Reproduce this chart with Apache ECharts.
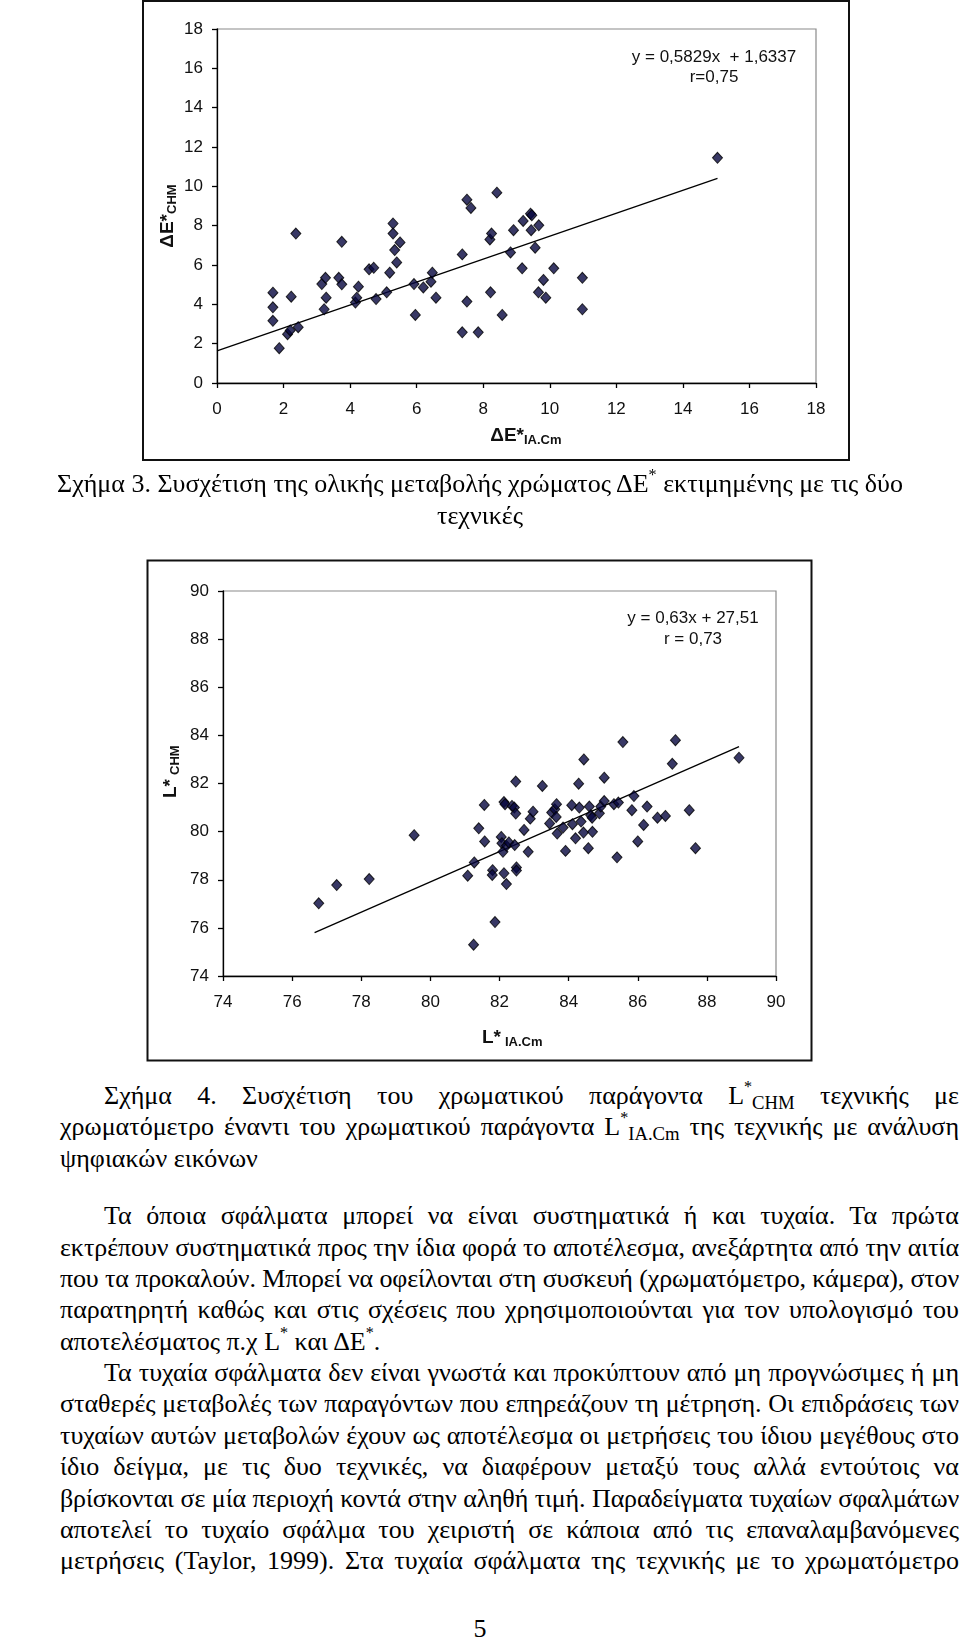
<!DOCTYPE html>
<html><head><meta charset="utf-8">
<script src="https://cdn.jsdelivr.net/npm/echarts@6/dist/echarts.min.js"></script>
<style>
html,body{margin:0;padding:0;background:#fff;}
#page{position:relative;width:960px;height:1639px;overflow:hidden;background:#fff;}
#chart{position:absolute;left:0;top:0;width:960px;height:1070px;}
.ln{position:absolute;font-family:"Liberation Serif","Times New Roman",serif;font-size:26px;line-height:28px;height:28px;color:#000;white-space:nowrap;}
.j{white-space:normal;text-align:justify;text-align-last:justify;}
.ln sup{font-size:0.62em;vertical-align:0.75em;line-height:0;}
.ln sub{font-size:0.72em;vertical-align:-0.25em;line-height:0;}
</style></head>
<body><div id="page">
<div id="chart"></div>

<div class="ln" style="left:0;width:960px;text-align:center;top:470px">Σχήμα 3. Συσχέτιση της ολικής μεταβολής χρώματος ΔΕ<sup>*</sup> εκτιμημένης με τις δύο</div>
<div class="ln" style="left:0;width:960px;text-align:center;top:502px">τεχνικές</div>

<div class="ln j" style="left:104px;width:855px;top:1082px">Σχήμα 4. Συσχέτιση του χρωματικού παράγοντα L<sup>*</sup><sub>CHM</sub> τεχνικής με</div>
<div class="ln j" style="left:60px;width:899px;top:1113px">χρωματόμετρο έναντι του χρωματικού παράγοντα L<sup>*</sup><sub>IA.Cm</sub> της τεχνικής με ανάλυση</div>
<div class="ln" style="left:60px;top:1145px">ψηφιακών εικόνων</div>

<div class="ln j" style="left:104px;width:855px;top:1202px">Τα όποια σφάλματα μπορεί να είναι συστηματικά ή και τυχαία. Τα πρώτα</div>
<div class="ln j" style="left:60px;width:899px;top:1234px">εκτρέπουν συστηματικά προς την ίδια φορά το αποτέλεσμα, ανεξάρτητα από την αιτία</div>
<div class="ln j" style="left:60px;width:899px;top:1265px">που τα προκαλούν.  Μπορεί να οφείλονται στη συσκευή (χρωματόμετρο, κάμερα), στον</div>
<div class="ln j" style="left:60px;width:899px;top:1296px">παρατηρητή καθώς και στις σχέσεις που χρησιμοποιούνται για τον υπολογισμό του</div>
<div class="ln" style="left:60px;top:1328px">αποτελέσματος π.χ L<sup>*</sup> και ΔΕ<sup>*</sup>.</div>
<div class="ln j" style="left:104px;width:855px;top:1359px">Τα τυχαία σφάλματα δεν είναι γνωστά και προκύπτουν από μη προγνώσιμες ή μη</div>
<div class="ln j" style="left:60px;width:899px;top:1390px">σταθερές μεταβολές των παραγόντων που επηρεάζουν τη μέτρηση.  Οι επιδράσεις των</div>
<div class="ln j" style="left:60px;width:899px;top:1422px">τυχαίων αυτών μεταβολών έχουν ως αποτέλεσμα οι μετρήσεις του ίδιου μεγέθους στο</div>
<div class="ln j" style="left:60px;width:899px;top:1453px">ίδιο δείγμα, με τις δυο τεχνικές, να διαφέρουν μεταξύ τους αλλά εντούτοις να</div>
<div class="ln j" style="left:60px;width:899px;top:1485px">βρίσκονται σε μία περιοχή κοντά στην αληθή τιμή. Παραδείγματα τυχαίων σφαλμάτων</div>
<div class="ln j" style="left:60px;width:899px;top:1516px">αποτελεί το τυχαίο σφάλμα του χειριστή σε κάποια από τις επαναλαμβανόμενες</div>
<div class="ln j" style="left:60px;width:899px;top:1547px">μετρήσεις (Taylor, 1999).  Στα τυχαία σφάλματα της τεχνικής με το χρωματόμετρο</div>
<div class="ln" style="left:0;width:960px;text-align:center;top:1615px">5</div>
</div>
<script>
// ---- Chart 1: ΔE* ----
const de_ia = [1.68,1.68,1.68,1.87,2.12,2.2,2.23,2.37,2.44,3.15,3.26,3.22,3.28,3.66,3.75,3.75,4.16,4.2,4.25,4.57,4.71,4.78,5.1,5.19,5.29,5.29,5.34,5.4,5.5,5.92,5.96,6.2,6.43,6.47,6.58,7.37,7.37,7.51,7.51,7.63,7.85,8.2,8.25,8.22,8.41,8.57,8.82,8.91,9.17,9.2,9.42,9.44,9.46,9.56,9.67,9.66,9.81,9.88,10.12,10.98,10.98,15.04];
const de_chm = [4.59,3.85,3.16,1.77,2.48,2.67,4.39,7.6,2.84,5.03,5.35,3.75,4.34,5.35,7.18,5.02,4.09,4.34,4.9,5.78,5.86,4.27,4.61,5.61,8.11,7.6,6.76,6.13,7.15,5.03,3.46,4.86,5.15,5.61,4.34,6.54,2.58,9.32,4.14,8.9,2.58,7.3,7.6,4.61,9.68,3.46,6.64,7.77,5.83,8.24,8.61,7.77,8.53,6.88,8.02,4.61,5.24,4.34,5.83,5.35,3.75,11.45];
const fit1 = [0.5829, 1.6337];      // slope, intercept
const fit1Range = [0, 15.04];
const ticks1 = [0, 18, 2];

// ---- Chart 2: L* ----
const l_ia = [76.77,77.29,78.23,79.53,81.08,81.27,81.25,81.4,81.56,81.57,81.8,81.79,81.87,82.05,82.07,82.1,82.13,82.13,82.2,82.2,82.16,82.27,82.36,82.43,82.47,82.47,82.44,82.49,82.49,82.71,82.83,82.89,82.97,83.24,83.45,83.51,83.6,83.65,83.64,83.67,83.84,83.91,84.09,84.11,84.2,84.29,84.31,84.36,84.44,84.43,84.57,84.6,84.64,84.68,84.69,84.89,84.93,85.03,85.03,85.31,85.4,85.44,85.57,85.83,85.89,86.0,86.17,86.27,86.57,86.8,87.0,87.09,87.49,87.67,88.93];
const l_chm = [77.02,77.78,78.03,79.85,78.17,78.72,75.3,80.14,81.11,79.59,78.4,78.2,76.24,79.78,79.52,79.16,81.23,78.27,77.82,79.41,81.14,79.55,81.07,81.0,80.75,82.08,79.44,78.51,78.38,80.07,79.16,80.54,80.83,81.9,80.34,80.79,80.93,81.14,80.61,79.92,80.17,79.2,81.1,80.31,79.72,81.99,81.0,80.42,83.0,79.96,79.31,81.04,80.68,80.58,79.99,80.76,81.04,82.24,81.27,81.14,78.93,81.21,83.72,80.89,81.48,79.59,80.28,81.04,80.58,80.65,82.82,83.8,80.89,79.31,83.07];
const fit2 = [0.63, 27.51];
const fit2Range = [76.65, 88.93];
const ticks2 = [74, 90, 2];

const eq1 = ['y = 0,5829x  + 1,6337', 'r=0,75'];
const eq2 = ['y = 0,63x + 27,51', 'r = 0,73'];

const SANS = '"Liberation Sans", Arial, sans-serif';
const pairs = (xs, ys) => xs.map((x, i) => [x, ys[i]]);
const fitLine = (f, r) => r.map(x => [x, f[0] * x + f[1]]);

function xAxis(gi, t) {
  return {
    type: 'value', gridIndex: gi, min: t[0], max: t[1], interval: t[2],
    axisLine: { show: true, onZero: false, lineStyle: { color: '#000', width: 1.3 } },
    axisTick: { show: true, inside: false, length: 5, lineStyle: { color: '#000', width: 1.3 } },
    axisLabel: { color: '#111', fontFamily: SANS, fontSize: 17, margin: 18 },
    splitLine: { show: false }
  };
}
function yAxis(gi, t) {
  return {
    type: 'value', gridIndex: gi, min: t[0], max: t[1], interval: t[2],
    axisLine: { show: true, onZero: false, lineStyle: { color: '#000', width: 1.3 } },
    axisTick: { show: true, inside: false, length: 5, lineStyle: { color: '#000', width: 1.3 } },
    axisLabel: { color: '#111', fontFamily: SANS, fontSize: 17, margin: 14 },
    splitLine: { show: false }
  };
}
const pointStyle = { color: '#06063f', borderColor: '#000', borderWidth: 1 };

function txt(x, y, text, font, align, rot) {
  return {
    type: 'text', x: x, y: y, rotation: rot || 0, silent: true,
    style: { text: text, font: font, fill: '#111', align: align || 'center', verticalAlign: 'middle' }
  };
}

const chart = echarts.init(document.getElementById('chart'), null, { renderer: 'canvas' });
chart.setOption({
  animation: false,
  backgroundColor: 'transparent',
  grid: [
    { left: 217, top: 29, width: 599, height: 354, show: true, borderColor: '#8a8a8a', borderWidth: 1.2, backgroundColor: 'transparent' },
    { left: 223, top: 591, width: 553, height: 385, show: true, borderColor: '#8a8a8a', borderWidth: 1.2, backgroundColor: 'transparent' }
  ],
  xAxis: [xAxis(0, ticks1), xAxis(1, ticks2)],
  yAxis: [yAxis(0, ticks1), yAxis(1, ticks2)],
  series: [
    { type: 'line', xAxisIndex: 0, yAxisIndex: 0, data: fitLine(fit1, fit1Range), symbol: 'none', lineStyle: { color: '#000', width: 1.3 }, silent: true, z: 2 },
    { type: 'scatter', xAxisIndex: 0, yAxisIndex: 0, data: pairs(de_ia, de_chm), symbol: 'diamond', symbolSize: [10, 11], itemStyle: pointStyle, z: 3 },
    { type: 'line', xAxisIndex: 1, yAxisIndex: 1, data: fitLine(fit2, fit2Range), symbol: 'none', lineStyle: { color: '#000', width: 1.3 }, silent: true, z: 2 },
    { type: 'scatter', xAxisIndex: 1, yAxisIndex: 1, data: pairs(l_ia, l_chm), symbol: 'diamond', symbolSize: [10, 11], itemStyle: pointStyle, z: 3 }
  ],
  graphic: [
    { type: 'rect', silent: true, shape: { x: 143, y: 1, width: 706, height: 459 }, style: { fill: 'none', stroke: '#111', lineWidth: 2 } },
    { type: 'rect', silent: true, shape: { x: 147.5, y: 560.5, width: 664, height: 500 }, style: { fill: 'none', stroke: '#111', lineWidth: 2 } },
    txt(714, 57, eq1[0], '17px ' + SANS),
    txt(714, 77, eq1[1], '17px ' + SANS),
    txt(693, 618, eq2[0], '17px ' + SANS),
    txt(693, 639, eq2[1], '17px ' + SANS),
    // chart 1 axis titles
    txt(524, 436, 'ΔE*', 'bold 19px ' + SANS, 'right'),
    txt(524, 440, 'IA.Cm', 'bold 13px ' + SANS, 'left'),
    txt(168, 214, 'ΔE*', 'bold 19px ' + SANS, 'right', Math.PI / 2),
    txt(172, 214, 'CHM', 'bold 13px ' + SANS, 'left', Math.PI / 2),
    // chart 2 axis titles
    txt(501, 1038, 'L*', 'bold 19px ' + SANS, 'right'),
    txt(505, 1042, 'IA.Cm', 'bold 13px ' + SANS, 'left'),
    txt(171, 779, 'L*', 'bold 19px ' + SANS, 'right', Math.PI / 2),
    txt(175, 775, 'CHM', 'bold 13px ' + SANS, 'left', Math.PI / 2)
  ]
});

// keep justified lines on a single line
function fitLines() {
  document.querySelectorAll('.ln.j').forEach(el => {
    el.style.letterSpacing = '';
    const W = el.clientWidth;
    const probe = document.createElement('span');
    probe.className = 'ln';
    probe.style.position = 'absolute';
    probe.style.visibility = 'hidden';
    probe.innerHTML = el.innerHTML;
    document.getElementById('page').appendChild(probe);
    const w = probe.getBoundingClientRect().width;
    probe.remove();
    if (w > W - 3) {
      const n = el.textContent.length;
      el.style.letterSpacing = ((W - 3 - w) / n) + 'px';
    }
  });
}
fitLines();
if (document.fonts && document.fonts.ready) document.fonts.ready.then(fitLines);
</script>
</body></html>
